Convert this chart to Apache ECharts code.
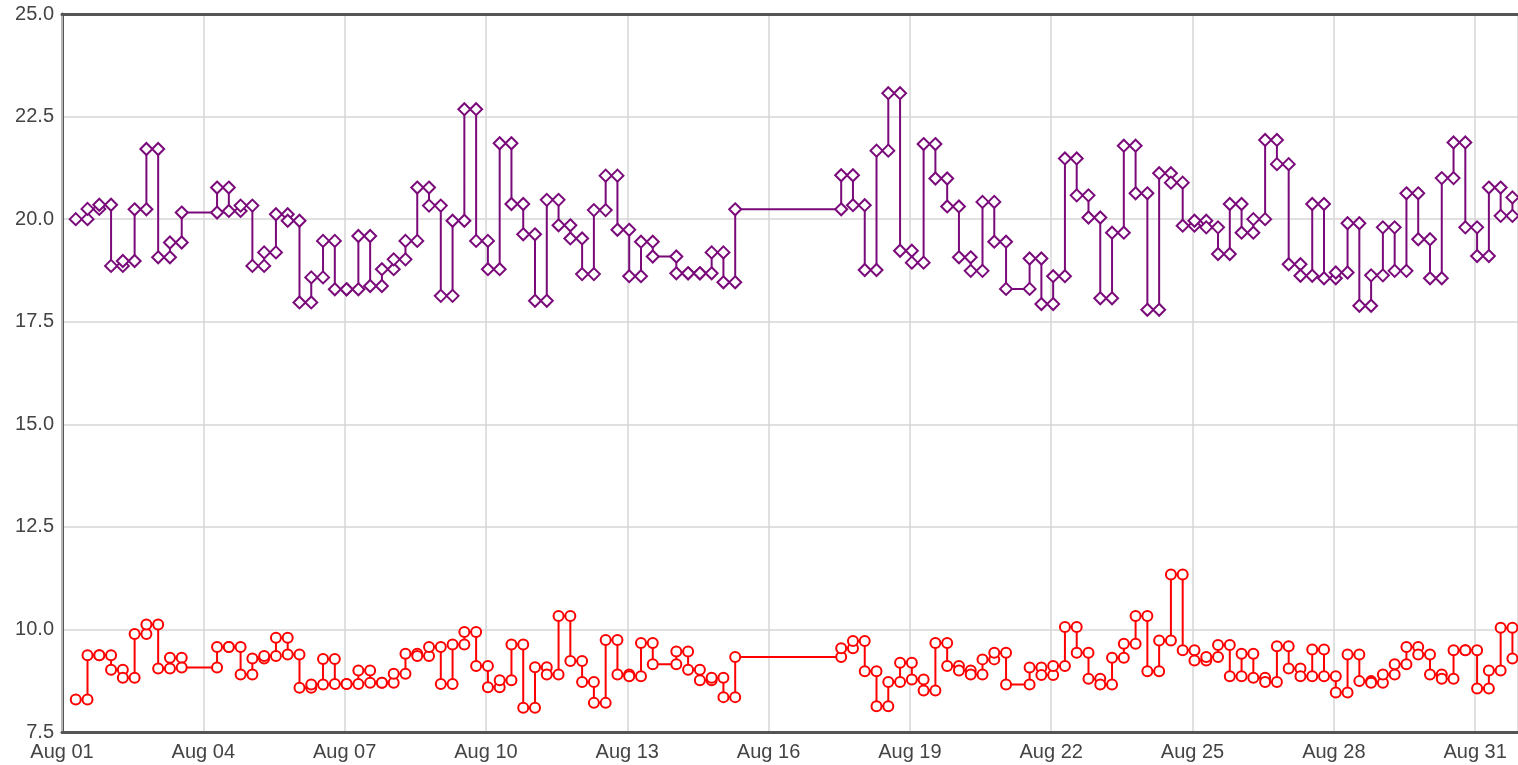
<!DOCTYPE html>
<html>
<head>
<meta charset="utf-8">
<script src="https://cdn.jsdelivr.net/npm/echarts@6/dist/echarts.min.js"></script>
<style>
  html, body { margin: 0; padding: 0; background: #fff; }
  #chart { width: 1518px; height: 765px; }
</style>
</head>
<body>
<div id="chart"></div>
<script>
// readings are taken every 6 hours starting Aug 01 07:00; null = no reading (line holds)
const firstHour = 7;
const stepHours = 6;

const purpleValues = [
  20.0, 20.25, 20.35, 18.86, 18.98, 20.24, 21.71, 19.07, 19.43, 20.16,
  null, null, 20.77, 20.20, 20.33, 18.86, 19.19, 20.12, 19.96, 17.97,
  18.58, 19.47, 18.29, 18.29, 19.59, 18.37, 18.78, 19.02, 19.47, 20.77,
  20.33, 18.13, 19.96, 22.68, 19.47, 18.78, 21.85, 20.37, 19.63, 18.01,
  20.47, 19.85, 19.53, 18.66, 20.22, 21.06, 19.74, 18.61, 19.45, 19.09,
  null, 18.68, 18.68, 18.68, 19.19, 18.46, 20.24, null, null, null,
  null, null, null, null, null, 21.07, 20.34, 18.76, 21.67, 23.07,
  19.23, 18.94, 21.83, 20.99, 20.31, 19.07, 18.74, 20.42, 19.45, 18.30,
  null, 19.04, 17.93, 18.61, 21.48, 20.58, 20.04, 18.07, 19.67, 21.79,
  20.63, 17.79, 21.12, 20.89, 19.84, 19.96, 19.80, 19.15, 20.37, 19.67,
  20.00, 21.93, 21.34, 18.90, 18.62, 20.37, 18.56, 18.70, 19.90, 17.89,
  18.63, 19.80, 18.74, 20.63, 19.51, 18.56, 21.00, 21.87, 19.80, 19.10,
  20.77, 20.08, 20.53
];

const redValues = [
  8.29, 9.37, 9.37, 9.02, 8.82, 9.89, 10.12, 9.05, 9.31, 9.07,
  null, null, 9.57, 9.57, 8.90, 9.29, 9.35, 9.80, 9.39, 8.58,
  8.66, 9.28, 8.67, 8.67, 9.00, 8.70, 8.70, 8.92, 9.41, 9.35,
  9.57, 8.67, 9.63, 9.94, 9.11, 8.59, 8.76, 9.63, 8.09, 9.08,
  8.90, 10.33, 9.23, 8.72, 8.21, 9.74, 8.90, 8.86, 9.67, 9.15,
  null, 9.46, 9.02, 8.76, 8.82, 8.35, 9.33, null, null, null,
  null, null, null, null, null, 9.54, 9.72, 8.98, 8.13, 8.72,
  9.19, 8.78, 8.51, 9.67, 9.11, 9.00, 8.90, 9.27, 9.43, 8.66,
  null, 9.07, 8.89, 9.11, 10.06, 9.43, 8.80, 8.66, 9.31, 9.65,
  10.33, 8.98, 9.73, 11.34, 9.49, 9.24, 9.33, 9.62, 8.86, 9.41,
  8.82, 8.72, 9.59, 9.05, 8.86, 9.51, 8.86, 8.46, 9.39, 8.74,
  8.70, 8.90, 9.15, 9.57, 9.39, 8.90, 8.80, 9.49, 9.49, 8.56,
  9.00, 10.04, 9.29
];

const yTicks = [7.5, 10.0, 12.5, 15.0, 17.5, 20.0, 22.5, 25.0];

// visible range in days since Aug 01 00:00 (chart is cut just before Sep 01)
const dayMin = 0;
const dayMax = 30.91;

// x in days since Aug 01 00:00
function dayOf(i) {
  return (firstHour + stepHours * i) / 24;
}

// step line with a marker at both corners of every level
function stepPoints(vals) {
  const pts = [];
  let prev = null;
  vals.forEach(function (v, i) {
    if (v === null) return;
    const x = dayOf(i);
    if (prev !== null) pts.push([x, prev]);
    pts.push([x, v]);
    prev = v;
  });
  return pts;
}

const myChart = echarts.init(document.getElementById('chart'));

const frameLine = { show: true, lineStyle: { color: '#555', width: 3 } };
const labelFont = {
  color: '#444',
  fontSize: 20,
  fontFamily: 'Liberation Sans, Arial, sans-serif'
};

const options = {
  animation: false,
  grid: {
    left: 62,
    right: 0,
    top: 14,
    bottom: 33
  },
  xAxis: [
    {
      type: 'value',
      position: 'bottom',
      min: dayMin,
      max: dayMax,
      interval: 3,
      axisLine: frameLine,
      axisTick: { show: false },
      axisLabel: Object.assign({}, labelFont, {
        margin: 10,
        showMaxLabel: false,
        formatter: function (v) {
          if (v % 3 !== 0) return '';
          const d = v + 1;
          return 'Aug ' + (d < 10 ? '0' + d : d);
        }
      }),
      splitLine: { lineStyle: { color: '#d6d6d6', width: 1.5 } },
      z: 3
    },
    {
      type: 'value',
      position: 'top',
      min: dayMin,
      max: dayMax,
      axisLine: frameLine,
      axisTick: { show: false },
      axisLabel: { show: false },
      splitLine: { show: false },
      z: 3
    }
  ],
  yAxis: {
    type: 'value',
    min: yTicks[0],
    max: yTicks[yTicks.length - 1],
    interval: 2.5,
    axisLine: frameLine,
    axisTick: { show: false },
    axisLabel: Object.assign({}, labelFont, {
      margin: 8,
      formatter: function (v) { return v.toFixed(1); }
    }),
    splitLine: { lineStyle: { color: '#d6d6d6', width: 1.5 } }
  },
  series: [
    {
      name: 'purple',
      type: 'line',
      data: stepPoints(purpleValues),
      symbol: 'emptyDiamond',
      symbolSize: 12,
      lineStyle: { color: '#7a0a7a', width: 2 },
      itemStyle: { color: '#7a0a7a', borderWidth: 2.2 }
    },
    {
      name: 'red',
      type: 'line',
      data: stepPoints(redValues),
      symbol: 'emptyCircle',
      symbolSize: 10,
      lineStyle: { color: '#ff0000', width: 2 },
      itemStyle: { color: '#ff0000', borderWidth: 2.2 }
    }
  ]
};

myChart.setOption(options);
</script>
</body>
</html>
